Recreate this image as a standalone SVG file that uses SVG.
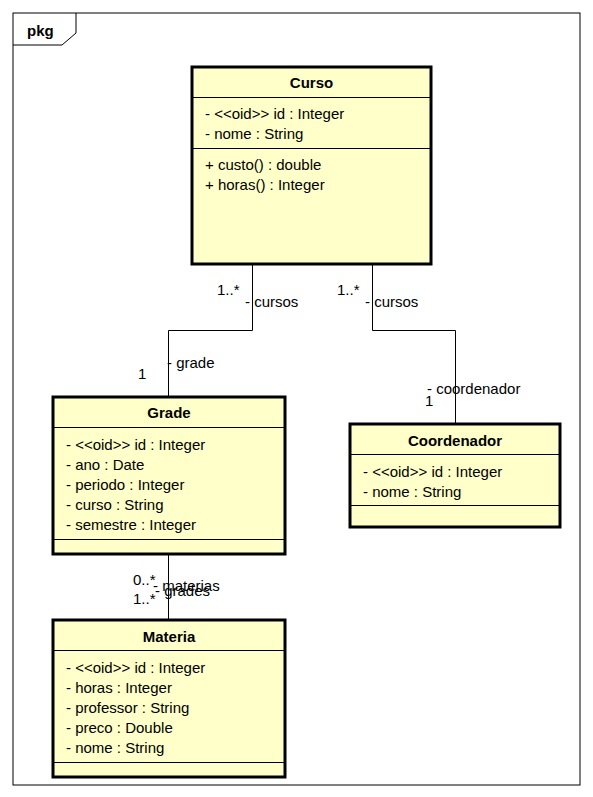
<svg xmlns="http://www.w3.org/2000/svg" width="593" height="797" viewBox="0 0 593 797">
<style>
text{font-family:"Liberation Sans",Arial,sans-serif;font-size:15px;fill:#000}
.t{font-weight:bold;text-anchor:middle}
.box{fill:#FFFFCA;stroke:#000;stroke-width:3}
.sep{stroke:#000;stroke-width:1}
.c{fill:none;stroke:#000;stroke-width:1}
</style>
<rect width="593" height="797" fill="#fff"/>
<g id="frame">
<rect x="13" y="13" width="567" height="772" fill="none" stroke="#000" stroke-width="1"/>
<path d="M13 45 H62 L76 33 V13" fill="none" stroke="#000" stroke-width="1"/>
<text x="27" y="36" style="font-weight:bold">pkg</text>
</g>
<g id="connectors">
<path class="c" d="M252.5 265 V330.5 H168.5 V397"/>
<path class="c" d="M372.5 265 V330.5 H455.5 V424"/>
<path class="c" d="M168.5 554 V620"/>
<text x="217" y="295">1..*</text>
<text x="245" y="307">- cursos</text>
<text x="337" y="295">1..*</text>
<text x="365" y="307">- cursos</text>
<text x="167" y="368">- grade</text>
<text x="138" y="379">1</text>
<text x="427" y="394">- coordenador</text>
<text x="425" y="406">1</text>
<text x="133" y="585">0..*</text>
<text x="153" y="591">- materias</text>
<text x="133" y="604">1..*</text>
<text x="155" y="596">- grades</text>
</g>
<g id="Curso">
<rect class="box" x="192" y="67" width="239" height="197"/>
<line class="sep" x1="192" y1="97.5" x2="431" y2="97.5"/>
<line class="sep" x1="192" y1="148.5" x2="431" y2="148.5"/>
<text class="t" x="311.5" y="88">Curso</text>
<text x="205" y="119">- &lt;&lt;oid&gt;&gt; id : Integer</text>
<text x="205" y="139">- nome : String</text>
<text x="205" y="170">+ custo() : double</text>
<text x="205" y="190">+ horas() : Integer</text>
</g>
<g id="Grade">
<rect class="box" x="53" y="397" width="232" height="157"/>
<line class="sep" x1="53" y1="427.5" x2="285" y2="427.5"/>
<line class="sep" x1="53" y1="539.5" x2="285" y2="539.5"/>
<text class="t" x="169" y="418">Grade</text>
<text x="66" y="450">- &lt;&lt;oid&gt;&gt; id : Integer</text>
<text x="66" y="470">- ano : Date</text>
<text x="66" y="490">- periodo : Integer</text>
<text x="66" y="510">- curso : String</text>
<text x="66" y="530">- semestre : Integer</text>
</g>
<g id="Coordenador">
<rect class="box" x="350" y="424" width="210" height="103"/>
<line class="sep" x1="350" y1="454.5" x2="560" y2="454.5"/>
<line class="sep" x1="350" y1="505.5" x2="560" y2="505.5"/>
<text class="t" x="455" y="446">Coordenador</text>
<text x="363" y="477">- &lt;&lt;oid&gt;&gt; id : Integer</text>
<text x="363" y="497">- nome : String</text>
</g>
<g id="Materia">
<rect class="box" x="53" y="620" width="232" height="157"/>
<line class="sep" x1="53" y1="650.5" x2="285" y2="650.5"/>
<line class="sep" x1="53" y1="762.5" x2="285" y2="762.5"/>
<text class="t" x="169" y="642">Materia</text>
<text x="66" y="673">- &lt;&lt;oid&gt;&gt; id : Integer</text>
<text x="66" y="693">- horas : Integer</text>
<text x="66" y="713">- professor : String</text>
<text x="66" y="733">- preco : Double</text>
<text x="66" y="753">- nome : String</text>
</g>
</svg>
